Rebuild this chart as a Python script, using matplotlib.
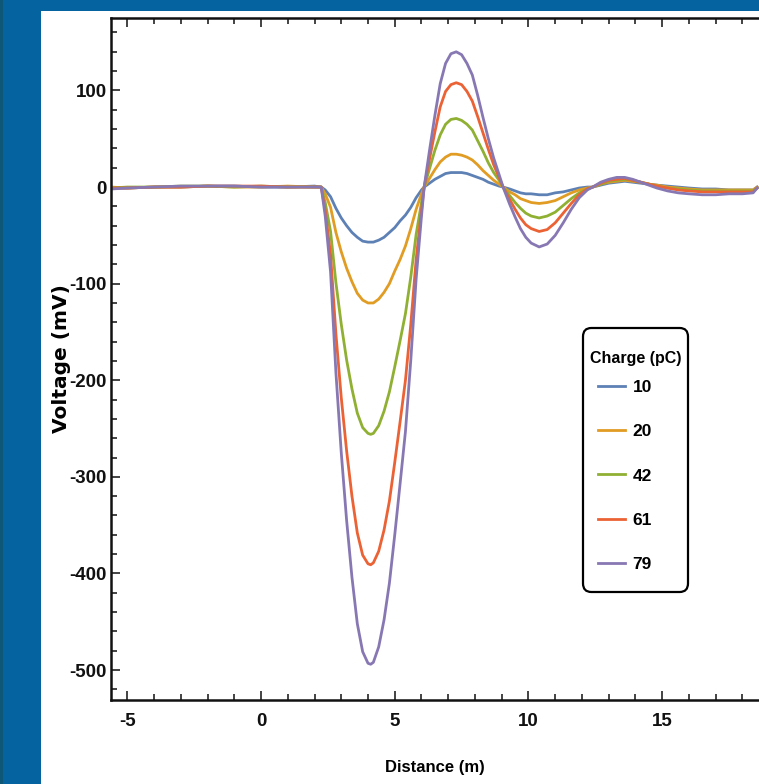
import matplotlib
matplotlib.use('Agg')
import matplotlib.pyplot as plt
from matplotlib.patches import Rectangle, FancyBboxPatch
from matplotlib.ticker import MultipleLocator

# distance axis (m), shared by all traces
dist = [-5.6, -5.0, -4.0, -3.0, -2.0, -1.0, 0.0, 1.0, 2.0, 2.25,
        2.4, 2.6, 2.8, 3.0, 3.2, 3.4, 3.6, 3.8, 4.0, 4.1, 4.2, 4.4, 4.6, 4.8,
        5.0, 5.2, 5.4, 5.6, 5.8, 6.0, 6.1,
        6.3, 6.5, 6.7, 6.9, 7.1, 7.3, 7.5, 7.7, 7.9, 8.1, 8.3, 8.5, 8.7, 8.9, 9.05,
        9.3, 9.5, 9.7, 9.9, 10.1, 10.4, 10.7, 11.0, 11.3, 11.6, 11.9, 12.2, 12.4,
        12.7, 13.0, 13.3, 13.6, 13.9, 14.2, 14.5, 14.8, 15.2, 15.6, 16.0, 16.5,
        17.0, 17.5, 18.0, 18.4, 18.55]

# voltage (mV) for each charge
v10 = [-1, -1, 0, 0, 1, 1, 0, 0, 1, 0,
       -3, -10, -22, -32, -40, -47, -52, -56, -57, -57, -57, -55, -52, -47,
       -42, -35, -29, -21, -11, -3, 0,
       4, 8, 11, 14, 15, 15, 15, 14, 12, 10, 8, 5, 3, 1, 0,
       -2, -4, -6, -7, -7, -8, -8, -6, -5, -3, -1, 0, 0,
       2, 4, 5, 6, 5, 4, 3, 2, 1, 0, -1, -2, -2, -3, -3, -3, 0]
v20 = [0, -1, 0, 0, 1, 0, 0, 1, 0, 0,
       -7, -21, -47, -67, -84, -98, -110, -117, -120, -120, -120, -116, -109, -100,
       -87, -75, -61, -43, -23, -7, 0,
       9, 18, 26, 31, 34, 34, 33, 31, 28, 23, 17, 12, 7, 3, 0,
       -5, -8, -12, -14, -16, -17, -16, -14, -10, -6, -3, -1, 0,
       3, 5, 6, 7, 6, 5, 3, 2, 0, -1, -2, -3, -3, -3, -3, -3, 0]
v42 = [-1, 0, 0, 1, 1, 0, 1, 0, 0, 0,
       -16, -46, -99, -142, -179, -209, -234, -249, -255, -256, -255, -247, -232, -212,
       -186, -159, -131, -93, -49, -16, 0,
       19, 38, 54, 65, 70, 71, 69, 65, 59, 48, 37, 25, 15, 7, 0,
       -9, -16, -22, -27, -30, -32, -30, -26, -19, -12, -6, -2, 0,
       3, 6, 7, 8, 7, 5, 3, 1, -1, -2, -3, -4, -4, -4, -4, -4, -1]
v61 = [-1, -1, 0, 0, 1, 1, 1, 0, 0, 0,
       -24, -70, -152, -218, -273, -320, -358, -381, -390, -391, -389, -377, -355, -325,
       -285, -243, -200, -142, -75, -24, 0,
       29, 57, 83, 99, 106, 108, 106, 99, 89, 73, 56, 39, 23, 10, 0,
       -13, -23, -32, -39, -43, -46, -44, -37, -27, -17, -8, -2, 0,
       4, 7, 8, 9, 7, 5, 3, 1, -1, -3, -4, -5, -5, -5, -5, -5, -1]
v79 = [-2, -1, 0, 1, 1, 1, 0, 0, 0, 0,
       -30, -88, -192, -275, -345, -404, -452, -481, -493, -494, -492, -476, -448, -410,
       -360, -307, -253, -179, -95, -30, 0,
       38, 74, 107, 128, 138, 140, 137, 128, 116, 95, 72, 50, 30, 13, 0,
       -18, -31, -43, -52, -58, -62, -59, -50, -37, -23, -11, -3, 0,
       5, 8, 10, 10, 8, 5, 2, -1, -4, -6, -7, -8, -8, -7, -7, -6, -1]

charges = ['10', '20', '42', '61', '79']
colors = ['#5E81B5', '#E19C24', '#8FB032', '#EB6235', '#8778B3']

plt.rcParams['font.family'] = ['Liberation Sans', 'DejaVu Sans']
plt.rcParams['font.weight'] = 'bold'
plt.rcParams['axes.unicode_minus'] = False

W, H = 759, 784
fig = plt.figure(figsize=(W / 100, H / 100), dpi=100, facecolor='#0563A0')
# white slide panel and dark edge strip, kept behind the axes
fig.patches.append(Rectangle((41 / W, 0), 1 - 41 / W, 1 - 11 / H, transform=fig.transFigure,
                             facecolor='white', edgecolor='none', zorder=-10))
fig.patches.append(Rectangle((0, 0), 3 / W, 1, transform=fig.transFigure,
                             facecolor='#0F5777', edgecolor='none', zorder=-10))

ax = fig.add_axes([111 / W, 1 - 700 / H, (W - 111) / W, (700 - 18) / H])
ax.patch.set_alpha(0)

for v, lab, c in zip([v10, v20, v42, v61, v79], charges, colors):
    ax.plot(dist, v, color=c, lw=2, label=lab)

ax.set_xlim(-5.61, 18.62)
ax.set_ylim(-531, 175)
ax.xaxis.set_major_locator(MultipleLocator(5))
ax.xaxis.set_minor_locator(MultipleLocator(1))
ax.yaxis.set_major_locator(MultipleLocator(100))
ax.yaxis.set_minor_locator(MultipleLocator(20))
ax.tick_params(which='both', direction='in', top=True, right=False, width=1.1, colors='#111111')
ax.tick_params(which='major', length=6.5, labelsize=13.5)
ax.tick_params(which='minor', length=4)
ax.tick_params(axis='x', pad=9)
ax.tick_params(axis='y', pad=3)
for lbl in ax.get_xticklabels() + ax.get_yticklabels():
    lbl.set_fontweight('bold')

ax.spines['right'].set_visible(False)
for s in ['left', 'bottom', 'top']:
    ax.spines[s].set_linewidth(1.8)
    ax.spines[s].set_color('#111111')

ax.set_xlabel('Distance (m)', fontsize=12, fontweight='bold', labelpad=22)
ax.set_ylabel('Voltage (mV)', fontsize=14.5, fontweight='bold', labelpad=-1,
              family=['DejaVu Sans'])

# legend: rounded frame, title and entries placed to match the slide
frame = FancyBboxPatch((583 / W, 1 - 592 / H), 105 / W, 264 / H,
                       boxstyle='round,pad=0,rounding_size=0.011',
                       transform=fig.transFigure, facecolor='white',
                       edgecolor='black', linewidth=1.6, zorder=5)
ax.add_artist(frame)
ax.text(636 / W, 1 - 358 / H, 'Charge (pC)', transform=fig.transFigure,
        ha='center', va='center', fontsize=11.5, fontweight='bold', zorder=6)
leg = ax.legend(loc='center', bbox_to_anchor=(625 / W, 1 - 476 / H),
                bbox_transform=fig.transFigure, borderaxespad=0, borderpad=0,
                fontsize=12.5, frameon=False, handlelength=1.55, handletextpad=0.45,
                labelspacing=1.68)
leg.set_zorder(7)
for t in leg.get_texts():
    t.set_fontweight('bold')

fig.savefig('out.png', dpi=100, facecolor=fig.get_facecolor())
